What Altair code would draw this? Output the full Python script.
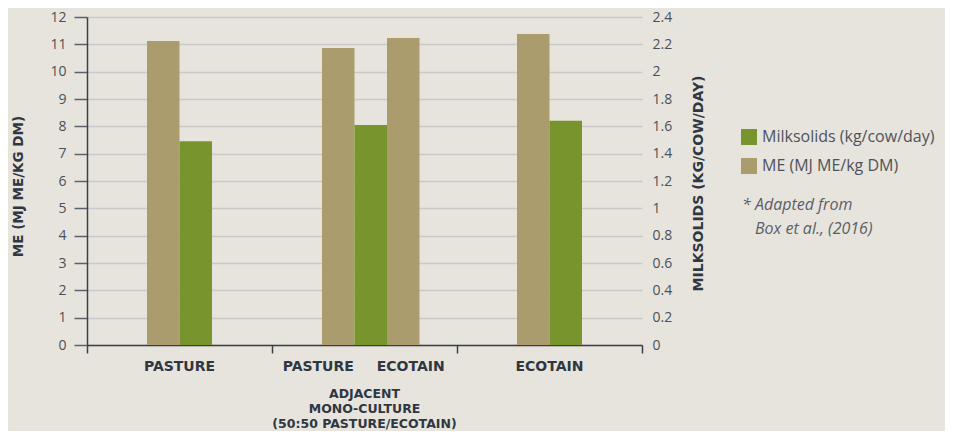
import altair as alt
import pandas as pd

# ---- data ----
groups = ["Pasture", "Adjacent", "Ecotain"]

series_names = ["Milksolids (kg/cow/day)", "ME (MJ ME/kg DM)"]
series_colors = ["#78952d", "#aa9c6c"]

# bar slot within its group (ME = tan, MS = green)
bar_group = ["Pasture", "Pasture", "Adjacent", "Adjacent", "Adjacent", "Ecotain", "Ecotain"]
bar_slot = ["me", "ms", "me_p", "ms", "me_e", "me", "ms"]
bar_series = [series_names[1], series_names[0], series_names[1], series_names[0],
              series_names[1], series_names[1], series_names[0]]
bar_values = [11.12, 1.49, 10.87, 1.61, 11.23, 11.38, 1.64]

me_ticks = [0, 1, 2, 3, 4, 5, 6, 7, 8, 9, 10, 11, 12]
ms_ticks = [0, 0.2, 0.4, 0.6, 0.8, 1.0, 1.2, 1.4, 1.6, 1.8, 2.0, 2.2, 2.4]

center_label_group = ["Pasture", "Ecotain"]
center_label_text = ["PASTURE", "ECOTAIN"]
split_label_group = ["Adjacent", "Adjacent"]
split_label_slot = ["l", "r"]
split_label_text = ["PASTURE", "ECOTAIN"]
sub_label_group = ["Adjacent"]
sub_label_text = ["ADJACENT\nMONO-CULTURE\n(50:50 PASTURE/ECOTAIN)"]
note_lines = ["* Adapted from", "Box et al., (2016)"]

bars_df = pd.DataFrame({"group": bar_group, "slot": bar_slot, "series": bar_series,
                        "value": bar_values})
ms_df = bars_df[bars_df["series"] == series_names[0]]
center_df = pd.DataFrame({"group": center_label_group, "label": center_label_text})
split_df = pd.DataFrame({"group": split_label_group, "slot": split_label_slot,
                         "label": split_label_text})
sub_df = pd.DataFrame({"group": sub_label_group, "label": sub_label_text})
note1_df = pd.DataFrame({"label": [note_lines[0]]})
note2_df = pd.DataFrame({"label": [note_lines[1]]})

DARK = "#2f3741"
AXIS = "#39404a"
BOLD_FONT = "DejaVu Sans"
LIGHT_FONT = "Open Sans"
ME_MAX, MS_MAX = 12, 2.4

x_scale = alt.Scale(domain=groups, paddingInner=0, paddingOuter=0)
x_axis = alt.Axis(title=None, labels=False, tickBand="extent", tickSize=8,
                  tickColor=AXIS, tickWidth=1.5, domainColor=AXIS, domainWidth=1.5,
                  grid=False)
X = alt.X("group:N", scale=x_scale, axis=x_axis, sort=groups)

color = alt.Color("series:N",
                  scale=alt.Scale(domain=series_names, range=series_colors),
                  legend=alt.Legend(title=None, orient="none", legendX=654, legendY=112,
                                    symbolType="square", symbolSize=256,
                                    symbolStrokeWidth=0, symbolOpacity=1,
                                    labelFont=LIGHT_FONT, labelFontSize=16,
                                    labelColor="#4d535b", labelOffset=5, labelLimit=0,
                                    rowPadding=13, padding=0))

left_y = alt.Y("scaled:Q", scale=alt.Scale(domain=[0, ME_MAX], nice=False),
               axis=alt.Axis(values=me_ticks, format="d", title="ME (MJ ME/KG DM)",
                             titleX=-69, titleY=169, titleAngle=270,
                             titleAlign="center", titleBaseline="middle",
                             titleFont=BOLD_FONT, titleFontSize=13.5, titleFontWeight="bold",
                             titleColor=DARK,
                             tickSize=13, tickColor="#5c6168", tickWidth=1.5,
                             domainColor=AXIS, domainWidth=1.5,
                             gridColor="#cbc8c9", gridWidth=1.5,
                             labelPadding=8, labelFont=LIGHT_FONT, labelFontSize=14,
                             labelColor="#4a5058"))

# milksolids drawn against the secondary (right) axis: 2.4 on the right = 12 on the left
scale_expr = f"datum.series == '{series_names[0]}' ? datum.value * {ME_MAX / MS_MAX} : datum.value"

bars_outer = alt.Chart(bars_df).transform_filter(
    alt.datum.group != "Adjacent"
).transform_calculate(scaled=scale_expr).mark_bar(opacity=1).encode(
    x=X,
    xOffset=alt.XOffset("slot:N", scale=alt.Scale(domain=["s0", "me", "ms", "s1"],
                                                  paddingInner=0, paddingOuter=0.846)),
    y=left_y,
    color=color,
)

bars_mid = alt.Chart(bars_df).transform_filter(
    alt.datum.group == "Adjacent"
).transform_calculate(scaled=scale_expr).mark_bar(opacity=1).encode(
    x=X,
    xOffset=alt.XOffset("slot:N", scale=alt.Scale(domain=["s0", "me_p", "ms", "me_e", "s1"],
                                                  paddingInner=0, paddingOuter=0.346,
                                                  align=0.778)),
    y=left_y,
    color=color,
)

label_style = dict(font=BOLD_FONT, fontSize=14, fontWeight="bold", color=DARK,
                   align="center", baseline="middle")

center_labels = alt.Chart(center_df).mark_text(**label_style).encode(
    x=X, y=alt.value(350), text="label:N")
split_labels = alt.Chart(split_df).mark_text(**label_style).encode(
    x=X,
    xOffset=alt.XOffset("slot:N", scale=alt.Scale(type="point", domain=["l", "r"],
                                                  padding=0.5)),
    y=alt.value(350), text="label:N")
sub_labels = alt.Chart(sub_df).mark_text(lineBreak="\n", lineHeight=15,
                                         font=BOLD_FONT, fontSize=12.5, fontWeight="bold",
                                         color=DARK, align="center", baseline="top").encode(
    x=X, y=alt.value(371), text="label:N")

inner = alt.layer(bars_outer, bars_mid, center_labels, split_labels, sub_labels).resolve_scale(
    xOffset="independent"
)

right_axis = alt.Chart(ms_df).mark_point(opacity=0).encode(
    x=X,
    y=alt.Y("value:Q", scale=alt.Scale(domain=[0, MS_MAX], nice=False),
            axis=alt.Axis(orient="right", values=ms_ticks,
                          labelExpr="'' + round(datum.value * 10) / 10",
                          title="MILKSOLIDS (KG/COW/DAY)",
                          titleX=56, titleY=166, titleAngle=270,
                          titleAlign="center", titleBaseline="middle",
                          titleFont=BOLD_FONT, titleFontSize=14, titleFontWeight="bold",
                          titleColor=DARK,
                          ticks=False, domain=False, grid=False,
                          labelPadding=10, labelFont=LIGHT_FONT, labelFontSize=14,
                          labelColor="#4a5058")),
)

note_style = dict(font=LIGHT_FONT, fontSize=16, fontStyle="italic", color="#5a5f66",
                  align="left", baseline="middle")
note1 = alt.Chart(note1_df).mark_text(**note_style).encode(
    x=alt.value(655), y=alt.value(188), text="label:N")
note2 = alt.Chart(note2_df).mark_text(**note_style).encode(
    x=alt.value(668), y=alt.value(212), text="label:N")

chart = alt.layer(inner, right_axis, note1, note2).resolve_scale(
    y="independent"
).properties(
    width=555, height=328,
    autosize=alt.AutoSizeParams(type="none"),
    padding={"left": 79, "top": 9, "right": 303, "bottom": 86},
    background="#e7e4de",
).configure_view(stroke=None)

chart.save("out.html", embed_options={"renderer": "svg", "actions": False})
